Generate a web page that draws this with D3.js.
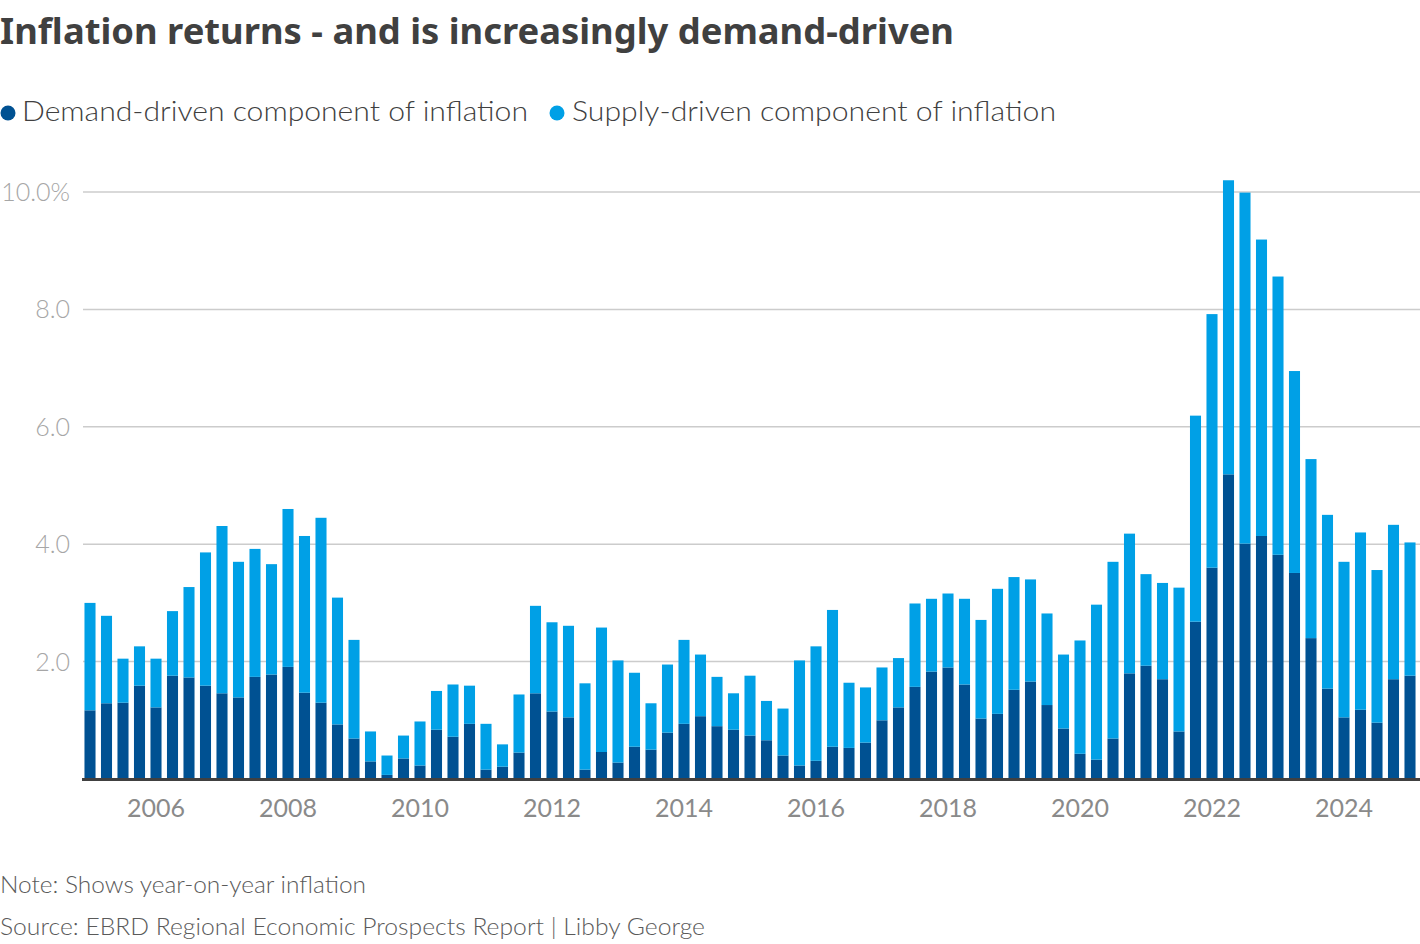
<!DOCTYPE html>
<html><head><meta charset="utf-8">
<script src="https://cdn.jsdelivr.net/npm/d3@7"></script>
<style>
html,body{margin:0;padding:0;background:#fff;}
svg{display:block;}
</style></head>
<body>
<svg id="chart" width="1420" height="944"></svg>
<script>
// Quarters 2005 Q1 .. 2025 Q1
const quarters = [];
for (let y = 2005; y <= 2025; y++) for (let q = 1; q <= 4; q++) { if (y === 2025 && q > 1) break; quarters.push(y + "-Q" + q); }

const demand = [1.17,1.29,1.30,1.59,1.22,1.76,1.73,1.59,1.46,1.39,1.74,1.78,1.91,1.47,1.30,0.93,0.69,0.30,0.07,0.35,
  0.23,0.84,0.72,0.94,0.16,0.21,0.45,1.46,1.15,1.05,0.16,0.46,0.28,0.55,0.50,0.79,0.94,1.07,0.90,0.84,
  0.74,0.66,0.40,0.23,0.31,0.55,0.53,0.62,1.00,1.22,1.57,1.83,1.90,1.61,1.03,1.11,1.52,1.66,1.26,0.86,
  0.43,0.33,0.69,1.80,1.93,1.70,0.81,2.68,3.60,5.19,4.01,4.14,3.82,3.51,2.40,1.54,1.05,1.18,0.96,1.70,1.76];
const supply = [1.83,1.49,0.75,0.67,0.83,1.10,1.54,2.27,2.85,2.31,2.18,1.88,2.69,2.67,3.15,2.16,1.68,0.51,0.33,0.39,
  0.75,0.66,0.89,0.65,0.78,0.38,0.99,1.49,1.52,1.56,1.47,2.12,1.74,1.26,0.79,1.16,1.43,1.05,0.84,0.62,
  1.02,0.67,0.80,1.79,1.95,2.33,1.11,0.94,0.90,0.84,1.42,1.24,1.26,1.46,1.68,2.13,1.92,1.74,1.56,1.26,
  1.93,2.64,3.01,2.38,1.56,1.64,2.45,3.51,4.32,5.01,5.98,5.05,4.74,3.44,3.05,2.96,2.65,3.02,2.60,2.63,2.27];

const seriesNames = ["Demand-driven component of inflation", "Supply-driven component of inflation"];
const seriesColors = ["#005192", "#00a0e6"];
const yTicks = [2, 4, 6, 8, 10];
const yTickLabels = ["2.0", "4.0", "6.0", "8.0", "10.0%"];
const xTickYears = ["2006","2008","2010","2012","2014","2016","2018","2020","2022","2024"];

const rows = quarters.map((q, i) => ({ q, demand: demand[i], supply: supply[i] }));
const stack = d3.stack().keys(["demand", "supply"])(rows);

const svg = d3.select("#chart");
const x = d3.scaleBand().domain(quarters).range([81.75, 1418.25]).paddingInner(0.33).paddingOuter(0.165);
const y = d3.scaleLinear().domain([0, 10]).range([779, 192]);

// title
svg.append("text").attr("x", 0).attr("y", 44)
  .attr("font-family", "'Noto Sans', 'Open Sans', sans-serif").attr("font-weight", 700)
  .attr("font-size", 36).attr("fill", "#404040")
  .attr("textLength", 954).attr("lengthAdjust", "spacingAndGlyphs")
  .text("Inflation returns - and is increasingly demand-driven");

// legend
const legX = [[8, 22, 506], [557, 572, 484]];
seriesNames.forEach((n, i) => {
  svg.append("circle").attr("cx", legX[i][0]).attr("cy", 113).attr("r", 7.5).attr("fill", seriesColors[i]);
  svg.append("text").attr("x", legX[i][1]).attr("y", 121)
    .attr("font-family", "Lato, sans-serif").attr("font-weight", 300)
    .attr("font-size", 28).attr("fill", "#404040")
    .attr("textLength", legX[i][2]).attr("lengthAdjust", "spacingAndGlyphs")
    .text(n);
});

// gridlines
const g = svg.append("g");
g.selectAll("line.grid").data(yTicks).join("line")
  .attr("x1", 83).attr("x2", 1420)
  .attr("y1", d => y(d)).attr("y2", d => y(d))
  .attr("stroke", "#cccccc").attr("stroke-width", 1.5);
g.selectAll("text.ylab").data(yTicks).join("text")
  .attr("x", 70).attr("y", d => y(d)).attr("dy", "0.36em")
  .attr("text-anchor", "end")
  .attr("font-family", "Lato, sans-serif").attr("font-weight", 300)
  .attr("font-size", 25).attr("fill", "#a6a6a6")
  .text((d, i) => yTickLabels[i]);

// bars
svg.append("g").selectAll("g").data(stack).join("g")
  .attr("fill", (d, i) => seriesColors[i])
  .selectAll("rect").data(d => d).join("rect")
  .attr("x", d => x(d.data.q))
  .attr("width", x.bandwidth())
  .attr("y", d => y(d[1]))
  .attr("height", d => y(d[0]) - y(d[1]));

// baseline
svg.append("line").attr("x1", 82).attr("x2", 1420).attr("y1", 779.5).attr("y2", 779.5)
  .attr("stroke", "#404040").attr("stroke-width", 3);

// x axis
const xAxis = d3.axisBottom(x).tickValues(xTickYears.map(yv => yv + "-Q1"))
  .tickSize(0).tickPadding(0).tickFormat(d => d.slice(0, 4));
const xa = svg.append("g").attr("transform", "translate(0,781)").call(xAxis);
xa.select(".domain").remove();
xa.selectAll("text").attr("dy", "0").attr("y", 36)
  .attr("font-family", "Lato, sans-serif").attr("font-weight", 400)
  .attr("font-size", 25).attr("fill", "#8a8a8a");

// notes
svg.append("text").attr("x", 0).attr("y", 893)
  .attr("font-family", "Lato, sans-serif").attr("font-weight", 300)
  .attr("font-size", 23).attr("fill", "#5a5a5a")
  .attr("textLength", 366).attr("lengthAdjust", "spacingAndGlyphs")
  .text("Note: Shows year-on-year inflation");
svg.append("text").attr("x", 0).attr("y", 935)
  .attr("font-family", "Lato, sans-serif").attr("font-weight", 300)
  .attr("font-size", 23).attr("fill", "#5a5a5a")
  .attr("textLength", 705).attr("lengthAdjust", "spacingAndGlyphs")
  .text("Source: EBRD Regional Economic Prospects Report | Libby George");
</script>
</body></html>
